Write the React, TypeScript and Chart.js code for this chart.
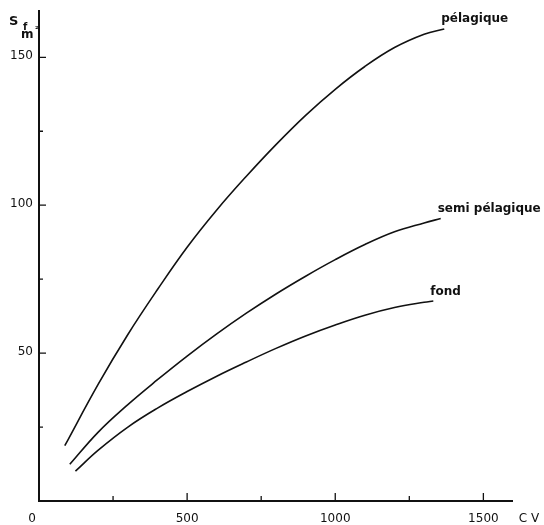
import React, { useEffect, useRef } from "react";
import { Chart, registerables } from "chart.js";

Chart.register(...registerables);

// Data
const pelagiqueX = [87, 200, 300, 400, 500, 600, 700, 800, 900, 1000, 1100, 1200, 1300, 1368];
const pelagiqueY = [18.7, 39.5, 56.3, 71.5, 85.8, 98.4, 109.8, 120.5, 130.4, 139.2, 146.9, 153.3, 157.8, 159.6];
const semiX = [104, 200, 300, 400, 500, 600, 700, 800, 900, 1000, 1100, 1200, 1300, 1356];
const semiY = [12.4, 23.3, 32.6, 41.0, 49.0, 56.5, 63.5, 70.0, 76.0, 81.6, 86.7, 91.0, 94.0, 95.5];
const fondX = [123, 200, 300, 400, 500, 600, 700, 800, 900, 1000, 1100, 1200, 1300, 1331];
const fondY = [10.1, 17.2, 25.0, 31.4, 37.0, 42.2, 47.0, 51.6, 55.8, 59.5, 62.8, 65.4, 67.2, 67.6];
const seriesNames = ["pélagique", "semi pélagique", "fond"];

const xMajorTicks = [500, 1000, 1500];
const xMinorTicks = [250, 750, 1250];
const xTickLabels = [0, 500, 1000, 1500];
const yMajorTicks = [50, 100, 150];
const yMinorTicks = [25, 75, 125];
const yTickLabels = [50, 100, 150];
const xAxisTitle = "C V";

const X_MIN = 0;
const X_MAX = 1600;
const Y_MIN = 0;
const Y_MAX = 166;

const INK = "#111";
const FONT = "'DejaVu Sans', sans-serif";

function toPoints(xs: number[], ys: number[]) {
  return xs.map((x, i) => ({ x, y: ys[i] }));
}

const decorPlugin = {
  id: "decor",
  afterDatasetsDraw(chart: any) {
    const ctx = chart.ctx as CanvasRenderingContext2D;
    const xs = chart.scales.x;
    const ys = chart.scales.y;
    const x0 = xs.getPixelForValue(X_MIN);
    const x1 = xs.getPixelForValue(X_MAX);
    const y0 = ys.getPixelForValue(Y_MIN);
    const y1 = ys.getPixelForValue(Y_MAX);
    ctx.save();
    ctx.strokeStyle = INK;
    ctx.fillStyle = INK;
    // axes
    ctx.lineWidth = 2;
    ctx.beginPath();
    ctx.moveTo(x0, y1);
    ctx.lineTo(x0, y0);
    ctx.lineTo(x1, y0);
    ctx.stroke();
    // ticks (inward)
    ctx.lineWidth = 1.3;
    ctx.beginPath();
    xMajorTicks.forEach((v) => {
      const p = xs.getPixelForValue(v);
      ctx.moveTo(p, y0);
      ctx.lineTo(p, y0 - 8);
    });
    xMinorTicks.forEach((v) => {
      const p = xs.getPixelForValue(v);
      ctx.moveTo(p, y0);
      ctx.lineTo(p, y0 - 5);
    });
    yMajorTicks.forEach((v) => {
      const p = ys.getPixelForValue(v);
      ctx.moveTo(x0, p);
      ctx.lineTo(x0 + 7, p);
    });
    yMinorTicks.forEach((v) => {
      const p = ys.getPixelForValue(v);
      ctx.moveTo(x0, p);
      ctx.lineTo(x0 + 4, p);
    });
    ctx.stroke();

    // tick labels
    ctx.font = `12px ${FONT}`;
    ctx.textBaseline = "middle";
    ctx.textAlign = "center";
    xTickLabels.forEach((v) => {
      const p = xs.getPixelForValue(v) - (v === 0 ? 7 : 0);
      ctx.fillText(String(v), p, y0 + 18);
    });
    ctx.fillText(xAxisTitle, x1 + 16, y0 + 18);
    ctx.textAlign = "right";
    yTickLabels.forEach((v) => {
      const p = ys.getPixelForValue(v);
      ctx.fillText(String(v), x0 - 6, p - 1);
    });

    // y-axis title  S f m²
    ctx.textBaseline = "alphabetic";
    ctx.textAlign = "left";
    ctx.font = `bold 13px ${FONT}`;
    ctx.fillText("S", x0 - 30, y1 + 15);
    ctx.font = `bold 10px ${FONT}`;
    ctx.fillText("f", x0 - 16, y1 + 20);
    ctx.font = `bold 12px ${FONT}`;
    ctx.fillText("m", x0 - 18, y1 + 28);
    ctx.font = `bold 8px ${FONT}`;
    ctx.fillText("²", x0 - 4, y1 + 22);

    // series labels at curve ends
    ctx.font = `bold 12px ${FONT}`;
    chart.data.datasets.forEach((ds: any, i: number) => {
      const last = ds.data[ds.data.length - 1];
      const px = xs.getPixelForValue(last.x);
      const py = ys.getPixelForValue(last.y);
      ctx.fillText(seriesNames[i], px - 3, py - 6.5);
    });
    ctx.restore();
  },
};

export default function App() {
  const canvasRef = useRef<HTMLCanvasElement | null>(null);

  useEffect(() => {
    const canvas = canvasRef.current;
    if (!canvas) return;
    const lineStyle = {
      borderColor: INK,
      borderWidth: 1.6,
      pointRadius: 0,
      fill: false,
      tension: 0.4,
    };
    const chart = new Chart(canvas, {
      type: "line",
      data: {
        datasets: [
          { label: seriesNames[0], data: toPoints(pelagiqueX, pelagiqueY), ...lineStyle },
          { label: seriesNames[1], data: toPoints(semiX, semiY), ...lineStyle },
          { label: seriesNames[2], data: toPoints(fondX, fondY), ...lineStyle },
        ],
      },
      options: {
        animation: false,
        responsive: false,
        maintainAspectRatio: false,
        layout: { padding: { left: 39, right: 31, top: 10, bottom: 24 } },
        plugins: {
          legend: { display: false },
          tooltip: { enabled: false },
        },
        scales: {
          x: { type: "linear", min: X_MIN, max: X_MAX, display: false },
          y: { type: "linear", min: Y_MIN, max: Y_MAX, display: false },
        },
      },
      plugins: [decorPlugin],
    });
    return () => chart.destroy();
  }, []);

  return (
    <div style={{ position: "absolute", left: 0, top: 0, width: 544, height: 525, background: "#fff" }}>
      <canvas ref={canvasRef} width={544} height={525} style={{ display: "block", width: 544, height: 525 }} />
    </div>
  );
}
